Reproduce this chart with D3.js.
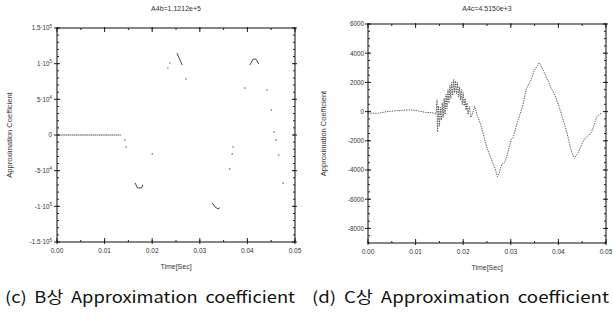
<!DOCTYPE html>
<html><head><meta charset="utf-8">
<script src="https://cdn.jsdelivr.net/npm/d3@7"></script>
<style>
body{margin:0;background:#fff;}
svg text{font-family:"Liberation Sans","Noto Sans CJK KR",sans-serif;}
svg text.cap{font-family:"Noto Sans CJK KR","Noto Sans",sans-serif;word-spacing:3px;}
</style></head>
<body><svg id="c" width="613" height="320"></svg>
<script>
// ---- data ----
const xTicks = [0, 0.01, 0.02, 0.03, 0.04, 0.05];
const xTickLabels = ["0.00", "0.01", "0.02", "0.03", "0.04", "0.05"];

// (c) B phase
const bTitle = "A4b=1.1212e+5";
const bCaption = "(c) B상 Approximation coefficient";
const bYTicks = [-150000, -100000, -50000, 0, 50000, 100000, 150000];
const bYTickMant = ["-1.5", "-1", "-5", "0", "5", "1", "1.5"];
const bYTickExp = ["5", "5", "4", "", "4", "5", "5"];
const bTime  = [0, 0.0134, 0.0143, 0.0145, 0.0164, 0.0169, 0.0178, 0.0180, 0.0200, 0.0233, 0.0237, 0.0252, 0.0263, 0.0271, 0.0326, 0.0332, 0.0338, 0.0342, 0.0363, 0.0368, 0.0370, 0.0395, 0.0405, 0.0412, 0.0418, 0.0424, 0.0441, 0.0450, 0.0456, 0.0460, 0.0466, 0.0475];
const bValue = [0, 0, -7000, -16800, -67200, -74200, -74200, -70000, -26600, 93800, 100800, 114800, 98000, 78400, -95200, -100800, -103600, -102000, -47600, -26600, -16800, 65800, 98000, 106400, 106400, 99400, 63000, 35000, 4200, -7000, -28000, -67200];
const bGroup = [0, 0, 1, 2, 3, 3, 3, 3, 4, 5, 6, 7, 7, 8, 9, 9, 9, 9, 10, 11, 12, 13, 14, 14, 14, 14, 15, 16, 17, 18, 19, 20];

// (d) C phase
const cTitle = "A4c=4.5150e+3";
const cCaption = "(d) C상 Approximation coefficient";
const cYTicks = [-8000, -6000, -4000, -2000, 0, 2000, 4000, 6000];
const cYTickLabels = ["-8000", "-6000", "-4000", "-2000", "0", "2000", "4000", "6000"];
const cTime = [0, 0.002, 0.004, 0.006, 0.008, 0.009, 0.010, 0.011, 0.012, 0.0135, 0.0143,
  0.0145, 0.0146, 0.0148, 0.0150, 0.0152, 0.0154, 0.0156, 0.0158, 0.0160, 0.0162, 0.0164, 0.0166, 0.0168, 0.0170,
  0.0172, 0.0174, 0.0176, 0.0178, 0.0180, 0.0182, 0.0184, 0.0186, 0.0188, 0.0190, 0.0192, 0.0194, 0.0196, 0.0198,
  0.0200, 0.0202, 0.0204, 0.0206, 0.0208, 0.0210, 0.0213, 0.0216, 0.0220, 0.0224, 0.0230, 0.0238, 0.0249, 0.0262,
  0.0267, 0.0272, 0.0276, 0.0281, 0.0287, 0.0293, 0.0301, 0.0305, 0.0314, 0.0324, 0.0333, 0.0343, 0.0349, 0.0360,
  0.0370, 0.0385, 0.0395, 0.0402, 0.0408, 0.0418, 0.0427, 0.0433, 0.0440, 0.0454, 0.0469, 0.0481, 0.0490];
const cValue = [-100, -120, 0, 60, 100, 120, 80, 20, -50, -80, -150,
  800, -1400, 400, -1000, 300, -600, 600, -400, 900, -200, 1200, 200, 1500, 600,
  1800, 900, 2000, 1100, 2200, 1300, 2100, 1200, 2000, 1000, 1700, 800, 1500, 500,
  1300, 400, 900, 100, 600, -200, 350, -400, -100, 350, -300, -1000, -2400, -3500,
  -3900, -4450, -4200, -3600, -3500, -2900, -1900, -1800, -700, 270, 1600, 2200, 2800, 3350,
  2700, 1600, 950, 270, -350, -1450, -2700, -3200, -2900, -1900, -1450, -350, -100];

// ---- drawing ----
const svg = d3.select("#c");
const ink = "#222";

function frame(g, x, y, xMinor, yMinor) {
  const [x0, x1] = x.range(), [y1, y0] = y.range();
  g.append("rect").attr("x", x0).attr("y", y0).attr("width", x1 - x0).attr("height", y1 - y0)
    .attr("fill", "none").attr("stroke", ink).attr("stroke-width", 1.1);
  const addX = (vals, len) => vals.forEach(v => {
    const px = x(v);
    g.append("line").attr("x1", px).attr("x2", px).attr("y1", y1).attr("y2", y1 - len).attr("stroke", ink);
    g.append("line").attr("x1", px).attr("x2", px).attr("y1", y0).attr("y2", y0 + len).attr("stroke", ink);
  });
  const addY = (vals, len) => vals.forEach(v => {
    const py = y(v);
    g.append("line").attr("y1", py).attr("y2", py).attr("x1", x0).attr("x2", x0 + len).attr("stroke", ink);
    g.append("line").attr("y1", py).attr("y2", py).attr("x1", x1).attr("x2", x1 - len).attr("stroke", ink);
  });
  addX(xMinor, 2); addY(yMinor, 2);
}

function panel(opts) {
  const g = svg.append("g");
  const x = d3.scaleLinear().domain([0, 0.05]).range([opts.left, opts.right]);
  const y = d3.scaleLinear().domain(opts.yDomain).range([opts.bottom, opts.top]);
  const xMinor = d3.range(0, 0.0501, 0.005);
  const yMinor = d3.range(opts.yDomain[0], opts.yDomain[1] + 1e-6, opts.yMinorStep);
  frame(g, x, y, xMinor, yMinor);
  opts.yTicks.forEach(v => {
    g.append("line").attr("x1", opts.left - 3).attr("x2", opts.left + 3).attr("y1", y(v)).attr("y2", y(v)).attr("stroke", ink);
    g.append("line").attr("x1", opts.right - 3).attr("x2", opts.right + 2).attr("y1", y(v)).attr("y2", y(v)).attr("stroke", ink);
  });
  xTicks.forEach(v => {
    g.append("line").attr("x1", x(v)).attr("x2", x(v)).attr("y1", opts.bottom + 2).attr("y2", opts.bottom - 4).attr("stroke", ink);
    g.append("line").attr("x1", x(v)).attr("x2", x(v)).attr("y1", opts.top - 1).attr("y2", opts.top + 4).attr("stroke", ink);
  });
  g.selectAll(".xl").data(xTicks).join("text")
    .attr("x", d => x(d)).attr("y", opts.bottom + 11)
    .attr("text-anchor", "middle").attr("font-size", 6.5).attr("fill", "#333")
    .text((d, i) => xTickLabels[i]);
  g.append("text").attr("x", (opts.left + opts.right) / 2).attr("y", 11)
    .attr("text-anchor", "middle").attr("font-size", 7).attr("fill", "#333").text(opts.title);
  g.append("text").attr("x", (opts.left + opts.right) / 2).attr("y", opts.bottom + 27)
    .attr("text-anchor", "middle").attr("font-size", 7).attr("fill", "#333").text("Time[Sec]");
  g.append("text").attr("transform", `translate(${opts.yLabelX},${(opts.top + opts.bottom) / 2}) rotate(-90)`)
    .attr("text-anchor", "middle").attr("font-size", 7.5).attr("fill", "#333").text("Approximation Coefficient");
  g.append("text").attr("class", "cap").attr("x", opts.capX).attr("y", 303).attr("font-size", 15.5).attr("fill", "#111")
    .attr("textLength", opts.capLen).attr("lengthAdjust", "spacingAndGlyphs").text(opts.caption);
  return {g, x, y};
}

// Left panel (c)
const L = panel({left: 57, right: 295, top: 28, bottom: 242, yDomain: [-150000, 150000], yMinorStep: 10000,
  yTicks: bYTicks, title: bTitle, yLabelX: 12, capX: 5, capLen: 290, caption: bCaption});
L.g.selectAll(".yl").data(bYTicks).join("text")
  .attr("x", 52).attr("y", d => L.y(d) + 2.3).attr("text-anchor", "end").attr("font-size", 6.3).attr("fill", "#333")
  .each(function(d, i) {
    const t = d3.select(this);
    if (bYTickExp[i] === "") { t.text("0"); return; }
    t.append("tspan").text(bYTickMant[i] + "·10");
    t.append("tspan").attr("dy", -2.5).attr("font-size", 4.5).text(bYTickExp[i]);
  });
const bPts = bTime.map((t, i) => ({t, v: bValue[i], grp: bGroup[i]}));
const bGroups = d3.groups(bPts, d => d.grp);
const lineB = d3.line().x(d => L.x(d.t)).y(d => L.y(d.v));
bGroups.forEach(([k, pts]) => {
  if (pts.length > 1) {
    L.g.append("path").attr("d", lineB(pts)).attr("fill", "none").attr("stroke", "#333")
      .attr("stroke-width", 0.9).attr("stroke-dasharray", k === 0 ? "1.5,0.6" : null);
  } else {
    L.g.append("circle").attr("cx", L.x(pts[0].t)).attr("cy", L.y(pts[0].v)).attr("r", 0.7).attr("fill", "#444");
  }
});

// Right panel (d)
const R = panel({left: 368, right: 606, top: 24, bottom: 243, yDomain: [-9000, 6000], yMinorStep: 500,
  yTicks: cYTicks, title: cTitle, yLabelX: 326, capX: 312, capLen: 297, caption: cCaption});
R.g.selectAll(".yl").data(cYTicks).join("text")
  .attr("x", 364).attr("y", d => R.y(d) + 2.3).attr("text-anchor", "end").attr("font-size", 6.3).attr("fill", "#333")
  .text((d, i) => cYTickLabels[i]);
const cPts = cTime.map((t, i) => ({t, v: cValue[i]}));
R.g.append("path").attr("d", d3.line().x(d => R.x(d.t)).y(d => R.y(d.v))(cPts))
  .attr("fill", "none").attr("stroke", "#444").attr("stroke-width", 0.9).attr("stroke-dasharray", "1.3,1.1");
</script></body></html>
